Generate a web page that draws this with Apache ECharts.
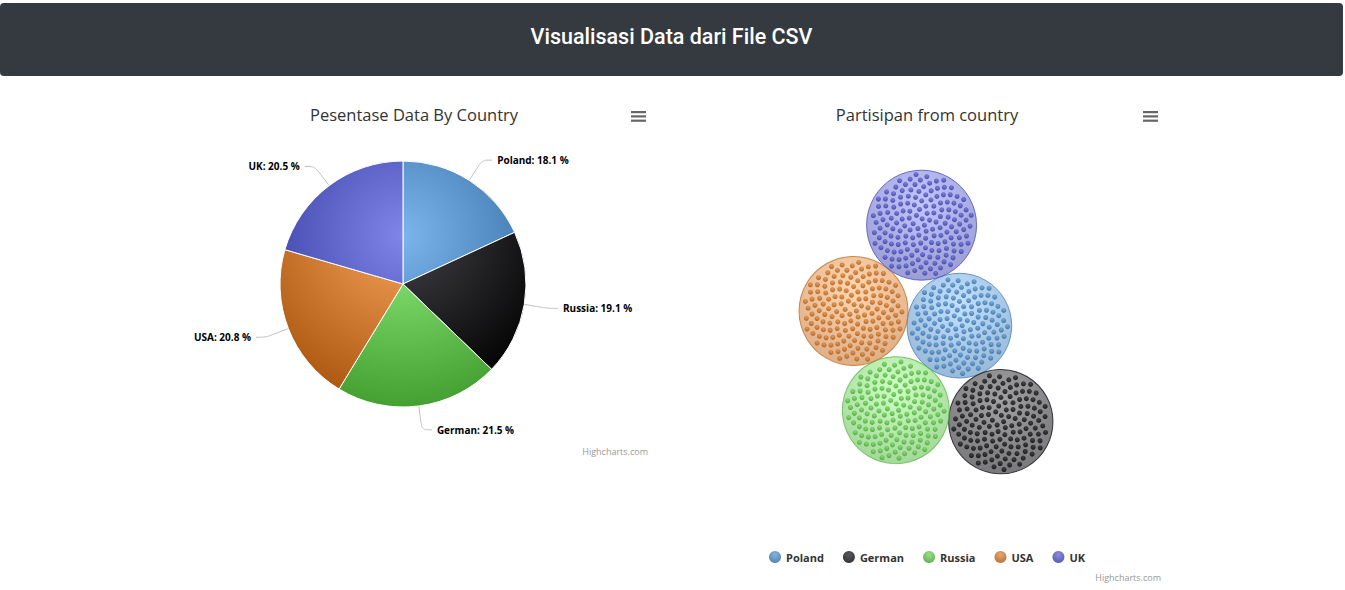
<!DOCTYPE html>
<html>
<head>
<meta charset="utf-8">
<script src="https://cdn.jsdelivr.net/npm/echarts@6/dist/echarts.min.js"></script>
<style>
html,body{margin:0;padding:0;background:#fff;width:1345px;height:590px;overflow:hidden;}
#header{position:absolute;left:0;top:3px;width:1343px;height:67px;padding-bottom:6px;background:#343a40;border-radius:4px;color:#fff;
  font-family:Roboto,"Open Sans",sans-serif;font-weight:500;font-size:21.5px;display:flex;align-items:center;justify-content:center;z-index:2;}
#chart{position:absolute;left:0;top:0;width:1345px;height:590px;}
</style>
</head>
<body>
<div id="chart"></div>
<div id="header">Visualisasi Data dari File CSV</div>
<script>
// ---- Data: pie (percentage by country) ----
const pieCategories = ['Poland', 'Russia', 'German', 'USA', 'UK'];
const pieValues = [18.1, 19.1, 21.5, 20.8, 20.5];

// ---- Data: packed bubble (participants per country) ----
const bubbleCountries = ['Poland', 'German', 'Russia', 'USA', 'UK'];
const bubbleCounts = [145, 144, 151, 157, 160];

// ---- Titles ----
const pieTitle = 'Pesentase Data By Country';
const bubbleTitle = 'Partisipan from country';

// ---- Styling ----
const palette = ['#7cb5ec', '#434348', '#90ed7d', '#f7a35c', '#8085e9'];
const FONT = '"Open Sans", "DejaVu Sans", sans-serif';

function hexToRgb(h) {
  const n = parseInt(h.slice(1), 16);
  return [(n >> 16) & 255, (n >> 8) & 255, n & 255];
}
function brighten(h, a) {
  return hexToRgb(h).map(v => Math.max(0, Math.min(255, Math.round(v + a * 255))));
}
function rgba(arr, op) { return 'rgba(' + arr.join(',') + ',' + op + ')'; }

// pie gradient: radial, relative to the whole pie (as Highcharts does)
const pieCenter = [403, 284], pieRadius = 123;
function pieGradient(c) {
  const d = pieRadius * 2;
  return {
    type: 'radial', global: true,
    x: pieCenter[0] - pieRadius + 0.5 * d,
    y: pieCenter[1] - pieRadius + 0.3 * d,
    r: 0.7 * d,
    colorStops: [{offset: 0, color: c}, {offset: 1, color: rgba(brighten(c, -0.3), 1)}]
  };
}
function ballGradient(c, op, a0, a1) {
  return {
    type: 'radial', x: 0.5, y: 0.3, r: 0.7,
    colorStops: [{offset: 0, color: rgba(brighten(c, a0), op)}, {offset: 1, color: rgba(brighten(c, a1), op)}]
  };
}

// ---- Packed bubble layout (computed from counts) ----
const grid = {left: 683, top: 90, width: 486, height: 464};
const maxBubbleRadius = 55;
const dotSize = 5;
const centerCountry = 'Poland';
const ringOrder = ['UK', 'USA', 'Russia', 'German'];
const ringStartDeg = 249.4;

const maxCount = Math.max(...bubbleCounts);
const radius = {};
bubbleCountries.forEach((c, i) => { radius[c] = maxBubbleRadius * Math.sqrt(bubbleCounts[i] / maxCount); });

const pos = {};
pos[centerCountry] = [0, 0];
let ang = ringStartDeg * Math.PI / 180;
const r0 = radius[centerCountry];
ringOrder.forEach((c, k) => {
  if (k > 0) {
    const p = ringOrder[k - 1];
    const a = r0 + radius[p], b = r0 + radius[c], cc = radius[p] + radius[c];
    ang -= Math.acos((a * a + b * b - cc * cc) / (2 * a * b));
  }
  const d = r0 + radius[c];
  pos[c] = [d * Math.cos(ang), d * Math.sin(ang)];
});
let minX = Infinity, maxX = -Infinity, minY = Infinity, maxY = -Infinity;
bubbleCountries.forEach(c => {
  minX = Math.min(minX, pos[c][0] - radius[c]); maxX = Math.max(maxX, pos[c][0] + radius[c]);
  minY = Math.min(minY, pos[c][1] - radius[c]); maxY = Math.max(maxY, pos[c][1] + radius[c]);
});
const shiftX = grid.width / 2 - (minX + maxX) / 2;
const shiftY = grid.height / 2 - (minY + maxY) / 2;

const GOLDEN = Math.PI * (3 - Math.sqrt(5));
const bubbleSeries = bubbleCountries.map((c, i) => {
  const col = palette[i];
  const cx = pos[c][0] + shiftX, cy = pos[c][1] + shiftY;
  const R = radius[c];
  const n = bubbleCounts[i];
  const inner = R - 4;
  const data = [{
    value: [cx, cy], symbolSize: 2 * R,
    itemStyle: {color: ballGradient(col, 0.7, 0.08, -0.2), borderColor: rgba(brighten(col, -0.2), 1), borderWidth: 1}
  }];
  for (let j = 0; j < n; j++) {
    const rr = inner * Math.sqrt((j + 0.5) / n);
    const t = j * GOLDEN;
    data.push([cx + rr * Math.cos(t), cy + rr * Math.sin(t)]);
  }
  return {
    type: 'scatter', name: c, xAxisIndex: 0, yAxisIndex: 0,
    symbol: 'circle', symbolSize: dotSize,
    itemStyle: {color: ballGradient(col, 1, -0.08, -0.32)},
    emphasis: {disabled: true},
    data: data, z: 2
  };
});

const chart = echarts.init(document.getElementById('chart'), null, {renderer: 'svg', width: 1345, height: 590});

const menuIcon = (x, y) => ({
  type: 'group', x: x, y: y, silent: true,
  children: [0, 4.3, 8.6].map(dy => ({type: 'rect', shape: {x: 0, y: dy, width: 15, height: 2.2}, style: {fill: '#666'}}))
});

chart.setOption({
  animation: false,
  backgroundColor: '#fff',
  title: [
    {text: pieTitle, left: 414, top: 106, textAlign: 'center', padding: 0,
      textStyle: {fontFamily: FONT, fontSize: 16.5, fontWeight: 'normal', color: '#333'}},
    {text: bubbleTitle, left: 927, top: 106, textAlign: 'center', padding: 0,
      textStyle: {fontFamily: FONT, fontSize: 16.5, fontWeight: 'normal', color: '#333'}}
  ],
  legend: {
    data: bubbleCountries,
    left: 769, top: 551, padding: 0,
    icon: 'circle', itemWidth: 12, itemHeight: 12, itemGap: 19,
    textStyle: {fontFamily: FONT, fontSize: 11, fontWeight: 'bold', color: '#333'},
    selectedMode: false
  },
  grid: {left: grid.left, top: grid.top, width: grid.width, height: grid.height, show: false},
  xAxis: {type: 'value', min: 0, max: grid.width, show: false},
  yAxis: {type: 'value', min: 0, max: grid.height, inverse: true, show: false},
  graphic: [
    menuIcon(631, 111),
    menuIcon(1143, 111),
    {type: 'text', x: 648, y: 451, silent: true,
      style: {text: 'Highcharts.com', fill: '#999', font: '9px ' + FONT, align: 'right', verticalAlign: 'middle'}},
    {type: 'text', x: 1161, y: 577, silent: true,
      style: {text: 'Highcharts.com', fill: '#999', font: '9px ' + FONT, align: 'right', verticalAlign: 'middle'}}
  ],
  series: [
    {
      type: 'pie', name: 'Pie',
      center: pieCenter, radius: pieRadius,
      startAngle: 90, clockwise: true,
      percentPrecision: 1,
      avoidLabelOverlap: false,
      emphasis: {disabled: true},
      itemStyle: {borderColor: '#fff', borderWidth: 1},
      label: {
        show: true, formatter: '{b}: {d} %',
        fontFamily: FONT, fontSize: 10, fontWeight: 'bold', color: '#000',
        textBorderColor: '#fff', textBorderWidth: 1.5
      },
      labelLine: {show: true, length: 24, length2: 10, smooth: 0.3, lineStyle: {color: '#c0c0c0', width: 1}},
      data: pieCategories.map((c, i) => ({name: c, value: pieValues[i], itemStyle: {color: pieGradient(palette[i])}}))
    }
  ].concat(bubbleSeries)
});
</script>
</body>
</html>
